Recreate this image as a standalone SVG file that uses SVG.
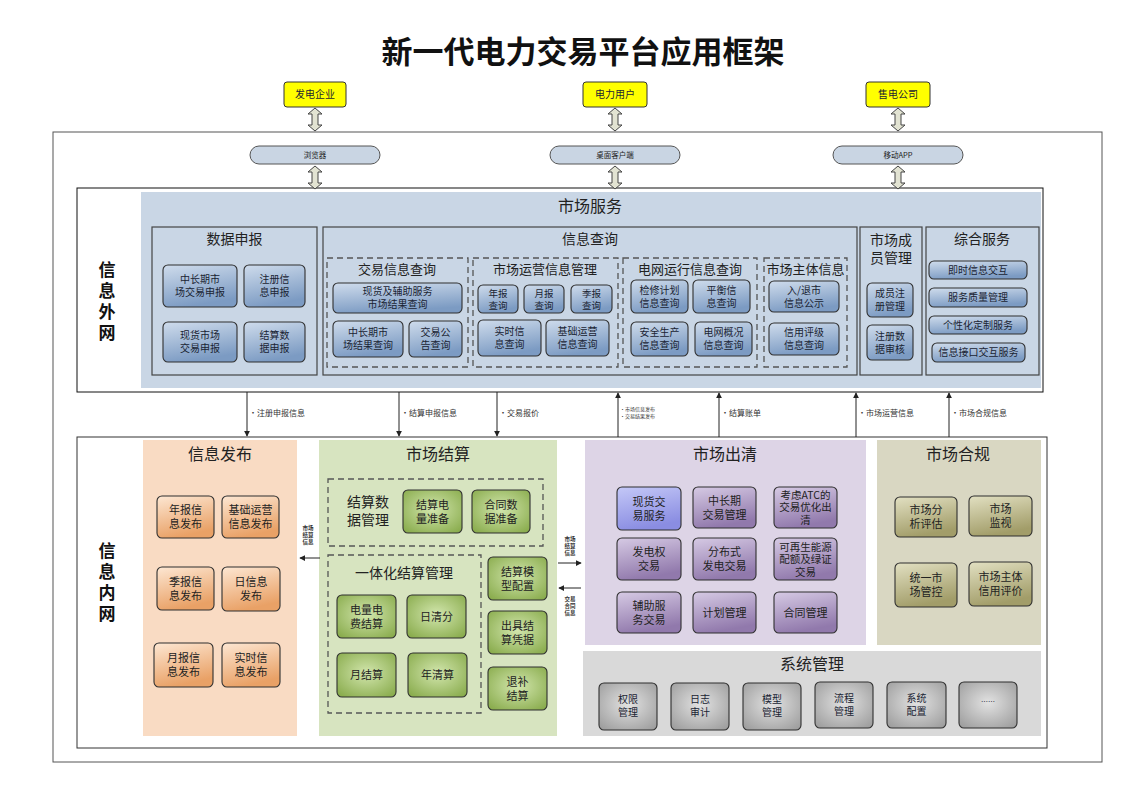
<svg xmlns="http://www.w3.org/2000/svg" width="1125" height="804" viewBox="0 0 1125 804">
<defs>
<style>
text{font-family:"Noto Sans CJK SC","Noto Sans",sans-serif;fill:#222;text-anchor:middle}
.ttl{font-size:31px;font-weight:bold;fill:#111}
.h16{font-size:16px;fill:#222}
.h14{font-size:14px;fill:#222}
.h13{font-size:13px;fill:#222}
.side{font-size:17px;font-weight:bold;fill:#111}
.n10{font-size:10px;fill:#1a2433}
.n9{font-size:9.5px;fill:#1a2433}
.n11{font-size:11px;fill:#222}
.n105{font-size:10.5px;fill:#222}
.lbl{font-size:8px;text-anchor:start;fill:#333}
.lbs{font-size:5px;text-anchor:start;fill:#333}
.tiny{font-size:5.5px;fill:#333;font-weight:bold}
.nd{stroke:#2f2f2f;stroke-width:1.1}
.blue{fill:url(#gBlue)}
.peach{fill:url(#gPeach)}
.green{fill:url(#gGreen)}
.purple{fill:url(#gPurple)}
.vio{fill:url(#gVio)}
.khaki{fill:url(#gKhaki)}
.gray{fill:url(#gGray)}
.sec{fill:none;stroke:#444;stroke-width:1.2}
.dash{fill:none;stroke:#555;stroke-width:1.3;stroke-dasharray:6 4}
.conn{stroke:#222;stroke-width:1;fill:none}
.dbl{fill:#e2e3d2;stroke:#444;stroke-width:1}
</style>
<linearGradient id="gBlue" x1="0" y1="0" x2="0.3" y2="1"><stop offset="0" stop-color="#cfdcec"/><stop offset="1" stop-color="#7c9bc3"/></linearGradient>
<linearGradient id="gPeach" x1="0" y1="0" x2="0.3" y2="1"><stop offset="0" stop-color="#fde7d3"/><stop offset="1" stop-color="#e9a166"/></linearGradient>
<radialGradient id="gGreen" cx="0.5" cy="0.45" r="0.7"><stop offset="0" stop-color="#d2e6ad"/><stop offset="1" stop-color="#87aa4a"/></radialGradient>
<linearGradient id="gPurple" x1="0" y1="0" x2="0.3" y2="1"><stop offset="0" stop-color="#d6cae4"/><stop offset="1" stop-color="#9179ac"/></linearGradient>
<linearGradient id="gVio" x1="0" y1="0" x2="0.3" y2="1"><stop offset="0" stop-color="#c4c8f7"/><stop offset="1" stop-color="#8a8de2"/></linearGradient>
<linearGradient id="gKhaki" x1="0" y1="0" x2="0.3" y2="1"><stop offset="0" stop-color="#e2e0c2"/><stop offset="1" stop-color="#a29d69"/></linearGradient>
<radialGradient id="gGray" cx="0.5" cy="0.45" r="0.7"><stop offset="0" stop-color="#e2e2e2"/><stop offset="1" stop-color="#9c9c9c"/></radialGradient>
<marker id="ah" viewBox="0 0 8 8" refX="7" refY="4" markerWidth="6" markerHeight="6" orient="auto"><path d="M0,0 L8,4 L0,8 Z" fill="#222"/></marker>
<path id="dbl" class="dbl" d="M0,0 L7,6 L3,6 L3,17 L7,17 L0,23 L-7,17 L-3,17 L-3,6 L-7,6 Z"/>
</defs>

<rect width="1125" height="804" fill="#ffffff"/>
<text class="ttl" x="583" y="63">新一代电力交易平台应用框架</text>

<!-- outer frames -->
<rect x="53" y="132" width="1049" height="630" fill="#fff" stroke="#555" stroke-width="1"/>
<rect x="77" y="188" width="966" height="204" fill="#fff" stroke="#111" stroke-width="1"/>
<rect x="141" y="192" width="900" height="196" fill="#c9d6e5"/>
<rect x="77" y="437" width="970" height="311" fill="#fff" stroke="#333" stroke-width="1"/>

<text class="side" x="107" y="276">信</text>
<text class="side" x="107" y="297">息</text>
<text class="side" x="107" y="318">外</text>
<text class="side" x="107" y="339">网</text>
<text class="side" x="107" y="557">信</text>
<text class="side" x="107" y="578">息</text>
<text class="side" x="107" y="599">内</text>
<text class="side" x="107" y="620">网</text>

<!-- external actors -->
<g id="actor-fadian"><rect x="284" y="82" width="62" height="25" rx="3" fill="#ffff00" stroke="#333"/><text class="n10" x="315" y="98">发电企业</text></g>
<g id="actor-yonghu"><rect x="583" y="82" width="64" height="25" rx="3" fill="#ffff00" stroke="#333"/><text class="n10" x="615" y="98">电力用户</text></g>
<g id="actor-shoudian"><rect x="866" y="82" width="64" height="25" rx="3" fill="#ffff00" stroke="#333"/><text class="n10" x="898" y="98">售电公司</text></g>

<g id="client-browser"><rect x="250" y="146" width="130" height="18" rx="9" fill="#c9d5e3" stroke="#555"/><text x="315" y="158" style="font-size:7.5px">浏览器</text></g>
<g id="client-desktop"><rect x="550" y="146" width="130" height="18" rx="9" fill="#c9d5e3" stroke="#555"/><text x="615" y="158" style="font-size:7.5px">桌面客户端</text></g>
<g id="client-mobile"><rect x="833" y="146" width="130" height="18" rx="9" fill="#c9d5e3" stroke="#555"/><text x="898" y="158" style="font-size:7.5px">移动APP</text></g>

<!-- 市场服务 -->
<g id="market-service">
<text class="h16" x="590" y="212">市场服务</text>
<g id="sec-data-report">
<rect class="sec" x="152" y="227" width="165" height="148"/>
<text class="h14" x="234.5" y="244">数据申报</text>
<g id="n-zcq-report"><rect class="nd blue" x="163" y="265" width="74" height="42" rx="5"/><text class="n10" x="200" y="283">中长期市<tspan x="200" y="296">场交易申报</tspan></text></g>
<g id="n-zc-report"><rect class="nd blue" x="244" y="265" width="61" height="42" rx="5"/><text class="n10" x="274.5" y="283">注册信<tspan x="274.5" y="296">息申报</tspan></text></g>
<g id="n-xh-report"><rect class="nd blue" x="163" y="322" width="74" height="40" rx="5"/><text class="n10" x="200" y="339">现货市场<tspan x="200" y="352">交易申报</tspan></text></g>
<g id="n-js-report"><rect class="nd blue" x="244" y="322" width="61" height="40" rx="5"/><text class="n10" x="274.5" y="339">结算数<tspan x="274.5" y="352">据申报</tspan></text></g>
</g>

<g id="sec-info-query">
<rect class="sec" x="323" y="227" width="534" height="148"/>
<text class="h14" x="590" y="244">信息查询</text>
<rect class="dash" x="327" y="258" width="141" height="109"/>
<text class="h13" x="397" y="274">交易信息查询</text>
<g id="n-xh-result"><rect class="nd blue" x="333" y="283" width="129" height="30" rx="5"/><text class="n10" x="397.5" y="295">现货及辅助服务<tspan x="397.5" y="308">市场结果查询</tspan></text></g>
<g id="n-zcq-result"><rect class="nd blue" x="333" y="321" width="70" height="36" rx="5"/><text class="n10" x="368" y="336">中长期市<tspan x="368" y="349">场结果查询</tspan></text></g>
<g id="n-jygg"><rect class="nd blue" x="409" y="321" width="53" height="36" rx="5"/><text class="n10" x="435.5" y="336">交易公<tspan x="435.5" y="349">告查询</tspan></text></g>

<rect class="dash" x="473" y="258" width="145" height="109"/>
<text class="h13" x="545" y="274">市场运营信息管理</text>
<g id="n-nb"><rect class="nd blue" x="478" y="285" width="40" height="28" rx="5"/><text class="n9" x="498" y="297">年报<tspan x="498" y="309">查询</tspan></text></g>
<g id="n-yb"><rect class="nd blue" x="524" y="285" width="40" height="28" rx="5"/><text class="n9" x="544" y="297">月报<tspan x="544" y="309">查询</tspan></text></g>
<g id="n-jb"><rect class="nd blue" x="571" y="285" width="41" height="28" rx="5"/><text class="n9" x="591.5" y="297">季报<tspan x="591.5" y="309">查询</tspan></text></g>
<g id="n-ss"><rect class="nd blue" x="478" y="320" width="63" height="36" rx="5"/><text class="n10" x="509.5" y="335">实时信<tspan x="509.5" y="348">息查询</tspan></text></g>
<g id="n-jcyy"><rect class="nd blue" x="546" y="320" width="63" height="36" rx="5"/><text class="n10" x="577.5" y="335">基础运营<tspan x="577.5" y="348">信息查询</tspan></text></g>

<rect class="dash" x="623" y="258" width="134" height="109"/>
<text class="h13" x="690" y="274">电网运行信息查询</text>
<g id="n-jxjh"><rect class="nd blue" x="631" y="280" width="57" height="33" rx="5"/><text class="n10" x="659.5" y="294">检修计划<tspan x="659.5" y="307">信息查询</tspan></text></g>
<g id="n-ph"><rect class="nd blue" x="693" y="280" width="57" height="33" rx="5"/><text class="n10" x="721.5" y="294">平衡信<tspan x="721.5" y="307">息查询</tspan></text></g>
<g id="n-aqsc"><rect class="nd blue" x="631" y="322" width="57" height="34" rx="5"/><text class="n10" x="659.5" y="336">安全生产<tspan x="659.5" y="349">信息查询</tspan></text></g>
<g id="n-dwgk"><rect class="nd blue" x="695" y="322" width="57" height="34" rx="5"/><text class="n10" x="723.5" y="336">电网概况<tspan x="723.5" y="349">信息查询</tspan></text></g>

<rect class="dash" x="764" y="258" width="83" height="109"/>
<text class="h13" x="805.5" y="274">市场主体信息</text>
<g id="n-rts"><rect class="nd blue" x="769" y="281" width="70" height="31" rx="5"/><text class="n10" x="804" y="294">入/退市<tspan x="804" y="307">信息公示</tspan></text></g>
<g id="n-xypj"><rect class="nd blue" x="769" y="323" width="70" height="32" rx="5"/><text class="n10" x="804" y="336">信用评级<tspan x="804" y="349">信息查询</tspan></text></g>
</g>

<g id="sec-member">
<rect class="sec" x="860" y="227" width="62" height="148"/>
<text class="h14" x="891" y="245">市场成<tspan x="891" y="263">员管理</tspan></text>
<g id="n-cyzc"><rect class="nd blue" x="867" y="283" width="46" height="34" rx="5"/><text class="n10" x="890" y="297">成员注<tspan x="890" y="310">册管理</tspan></text></g>
<g id="n-zcsh"><rect class="nd blue" x="867" y="325" width="46" height="35" rx="5"/><text class="n10" x="890" y="339.5">注册数<tspan x="890" y="352.5">据审核</tspan></text></g>
</g>

<g id="sec-general">
<rect class="sec" x="926" y="227" width="113" height="148"/>
<text class="h14" x="982" y="244">综合服务</text>
<g id="n-jsxx"><rect class="nd blue" x="929" y="261" width="98" height="18" rx="5"/><text class="n10" x="978" y="273.5">即时信息交互</text></g>
<g id="n-fwzl"><rect class="nd blue" x="929" y="288" width="98" height="19" rx="5"/><text class="n10" x="978" y="301">服务质量管理</text></g>
<g id="n-gxh"><rect class="nd blue" x="929" y="316" width="98" height="18" rx="5"/><text class="n10" x="978" y="328.5">个性化定制服务</text></g>
<g id="n-jk"><rect class="nd blue" x="932" y="343" width="93" height="19" rx="5"/><text class="n10" x="978.5" y="356">信息接口交互服务</text></g>
</g>
</g>

<!-- 信息发布 -->
<g id="info-publish">
<rect x="143" y="440" width="154" height="296" fill="#f9dbc3"/>
<text class="h16" x="220" y="460">信息发布</text>
<g id="n-nbfb"><rect class="nd peach" x="157" y="496" width="57" height="42" rx="5"/><text class="n11" x="185.5" y="514">年报信<tspan x="185.5" y="528">息发布</tspan></text></g>
<g id="n-jcfb"><rect class="nd peach" x="222" y="496" width="57" height="42" rx="5"/><text class="n11" x="250.5" y="514">基础运营<tspan x="250.5" y="528">信息发布</tspan></text></g>
<g id="n-jbfb"><rect class="nd peach" x="157" y="567" width="57" height="43" rx="5"/><text class="n11" x="185.5" y="585.5">季报信<tspan x="185.5" y="599.5">息发布</tspan></text></g>
<g id="n-rxx"><rect class="nd peach" x="222" y="567" width="58" height="44" rx="5"/><text class="n11" x="251" y="586">日信息<tspan x="251" y="600">发布</tspan></text></g>
<g id="n-ybfb"><rect class="nd peach" x="154" y="643" width="59" height="44" rx="5"/><text class="n11" x="183.5" y="662">月报信<tspan x="183.5" y="676">息发布</tspan></text></g>
<g id="n-ssfb"><rect class="nd peach" x="222" y="643" width="58" height="44" rx="5"/><text class="n11" x="251" y="662">实时信<tspan x="251" y="676">息发布</tspan></text></g>
</g>

<!-- 市场结算 -->
<g id="settlement">
<rect x="319" y="440" width="238" height="296" fill="#d7e4c0"/>
<text class="h16" x="438" y="460">市场结算</text>
<rect class="dash" x="328" y="479" width="215" height="67"/>
<text class="h14" x="368" y="507">结算数<tspan x="368" y="525">据管理</tspan></text>
<g id="n-jsdl"><rect class="nd green" x="403" y="490" width="59" height="43" rx="5"/><text class="n11" x="432.5" y="508.5">结算电<tspan x="432.5" y="522.5">量准备</tspan></text></g>
<g id="n-htsj"><rect class="nd green" x="472" y="490" width="58" height="43" rx="5"/><text class="n11" x="501" y="508.5">合同数<tspan x="501" y="522.5">据准备</tspan></text></g>
<rect class="dash" x="328" y="555" width="153" height="158"/>
<text class="h14" x="404" y="578">一体化结算管理</text>
<g id="n-dldf"><rect class="nd green" x="337" y="595" width="59" height="43" rx="5"/><text class="n11" x="366.5" y="613.5">电量电<tspan x="366.5" y="627.5">费结算</tspan></text></g>
<g id="n-rqf"><rect class="nd green" x="407" y="595" width="59" height="43" rx="5"/><text class="n11" x="436.5" y="620.5">日清分</text></g>
<g id="n-yjs"><rect class="nd green" x="337" y="653" width="59" height="44" rx="5"/><text class="n11" x="366.5" y="679">月结算</text></g>
<g id="n-nqs"><rect class="nd green" x="408" y="653" width="59" height="44" rx="5"/><text class="n11" x="437.5" y="679">年清算</text></g>
<g id="n-jsmx"><rect class="nd green" x="488" y="557" width="59" height="43" rx="5"/><text class="n11" x="517.5" y="575.5">结算模<tspan x="517.5" y="589.5">型配置</tspan></text></g>
<g id="n-cjpj"><rect class="nd green" x="488" y="611" width="59" height="43" rx="5"/><text class="n11" x="517.5" y="629.5">出具结<tspan x="517.5" y="643.5">算凭据</tspan></text></g>
<g id="n-tbjs"><rect class="nd green" x="488" y="667" width="59" height="43" rx="5"/><text class="n11" x="517.5" y="685.5">退补<tspan x="517.5" y="699.5">结算</tspan></text></g>
</g>

<!-- 市场出清 -->
<g id="clearing">
<rect x="585" y="440" width="281" height="205" fill="#ddd4e6"/>
<text class="h16" x="725" y="460">市场出清</text>
<g id="n-xhjy"><rect class="nd vio" x="617" y="487" width="64" height="43" rx="5"/><text class="n11" x="649" y="505.5">现货交<tspan x="649" y="519.5">易服务</tspan></text></g>
<g id="n-zcqjy"><rect class="nd purple" x="693" y="487" width="63" height="41" rx="5"/><text class="n11" x="724.5" y="504.5">中长期<tspan x="724.5" y="518.5">交易管理</tspan></text></g>
<g id="n-atc"><rect class="nd purple" x="774" y="487" width="63" height="41" rx="5"/><text class="n105" x="805.5" y="498.5">考虑ATC的<tspan x="805.5" y="511">交易优化出</tspan><tspan x="805.5" y="523.5">清</tspan></text></g>
<g id="n-fdq"><rect class="nd purple" x="617" y="538" width="64" height="42" rx="5"/><text class="n11" x="649" y="556">发电权<tspan x="649" y="570">交易</tspan></text></g>
<g id="n-fbs"><rect class="nd purple" x="693" y="538" width="63" height="42" rx="5"/><text class="n11" x="724.5" y="556">分布式<tspan x="724.5" y="570">发电交易</tspan></text></g>
<g id="n-kzs"><rect class="nd purple" x="774" y="538" width="63" height="42" rx="5"/><text class="n105" x="805.5" y="550.5">可再生能源<tspan x="805.5" y="563">配额及绿证</tspan><tspan x="805.5" y="575.5">交易</tspan></text></g>
<g id="n-fzfw"><rect class="nd purple" x="617" y="592" width="64" height="41" rx="5"/><text class="n11" x="649" y="609.5">辅助服<tspan x="649" y="623.5">务交易</tspan></text></g>
<g id="n-jhgl"><rect class="nd purple" x="693" y="592" width="63" height="41" rx="5"/><text class="n11" x="724.5" y="616.5">计划管理</text></g>
<g id="n-htgl"><rect class="nd purple" x="774" y="592" width="63" height="41" rx="5"/><text class="n11" x="805.5" y="616.5">合同管理</text></g>
</g>

<!-- 市场合规 -->
<g id="compliance">
<rect x="877" y="440" width="164" height="205" fill="#d9d7c2"/>
<text class="h16" x="958" y="460">市场合规</text>
<g id="n-scfx"><rect class="nd khaki" x="895" y="497" width="62" height="40" rx="5"/><text class="n11" x="926" y="514">市场分<tspan x="926" y="528">析评估</tspan></text></g>
<g id="n-scjs"><rect class="nd khaki" x="969" y="496" width="63" height="40" rx="5"/><text class="n11" x="1000.5" y="513">市场<tspan x="1000.5" y="527">监视</tspan></text></g>
<g id="n-tysc"><rect class="nd khaki" x="895" y="563" width="62" height="44" rx="5"/><text class="n11" x="926" y="582">统一市<tspan x="926" y="596">场管控</tspan></text></g>
<g id="n-xypj2"><rect class="nd khaki" x="969" y="562" width="63" height="44" rx="5"/><text class="n11" x="1000.5" y="581">市场主体<tspan x="1000.5" y="595">信用评价</tspan></text></g>
</g>

<!-- 系统管理 -->
<g id="sysmgmt">
<rect x="583" y="651" width="458" height="85" fill="#d9d9d9"/>
<text class="h16" x="812" y="670">系统管理</text>
<g id="n-qx"><rect class="nd gray" x="599" y="683" width="58" height="47" rx="5"/><text class="n10" x="628" y="703">权限<tspan x="628" y="716">管理</tspan></text></g>
<g id="n-rz"><rect class="nd gray" x="671" y="683" width="58" height="47" rx="5"/><text class="n10" x="700" y="703">日志<tspan x="700" y="716">审计</tspan></text></g>
<g id="n-mx"><rect class="nd gray" x="743" y="683" width="58" height="47" rx="5"/><text class="n10" x="772" y="703">模型<tspan x="772" y="716">管理</tspan></text></g>
<g id="n-lc"><rect class="nd gray" x="815" y="682" width="58" height="46" rx="5"/><text class="n10" x="844" y="702">流程<tspan x="844" y="715">管理</tspan></text></g>
<g id="n-xtpz"><rect class="nd gray" x="887" y="682" width="59" height="46" rx="5"/><text class="n10" x="916.5" y="702">系统<tspan x="916.5" y="715">配置</tspan></text></g>
<g id="n-more"><rect class="nd gray" x="959" y="682" width="58" height="46" rx="5"/><text class="n10" x="988" y="704" style="font-size:7px">……</text></g>
</g>

<!-- connectors -->
<g id="connectors">
<use href="#dbl" x="315" y="108"/>
<use href="#dbl" x="615" y="108"/>
<use href="#dbl" x="898" y="108"/>
<use href="#dbl" x="315" y="166"/>
<use href="#dbl" x="615" y="166"/>
<use href="#dbl" x="898" y="166"/>

<line class="conn" x1="247" y1="392" x2="247" y2="436" marker-end="url(#ah)"/>
<line class="conn" x1="399" y1="392" x2="399" y2="436" marker-end="url(#ah)"/>
<line class="conn" x1="497" y1="392" x2="497" y2="436" marker-end="url(#ah)"/>
<line class="conn" x1="618" y1="437" x2="618" y2="393" marker-end="url(#ah)"/>
<line class="conn" x1="719" y1="437" x2="719" y2="393" marker-end="url(#ah)"/>
<line class="conn" x1="856" y1="437" x2="856" y2="393" marker-end="url(#ah)"/>
<line class="conn" x1="949" y1="437" x2="949" y2="393" marker-end="url(#ah)"/>
<text class="lbl" x="249" y="416">•注册申报信息</text>
<text class="lbl" x="401" y="416">•结算申报信息</text>
<text class="lbl" x="499" y="416">•交易报价</text>
<text class="lbs" x="620" y="411">•市场信息发布</text>
<text class="lbs" x="620" y="418">•交易结果发布</text>
<text class="lbl" x="721" y="416">•结算账单</text>
<text class="lbl" x="858" y="416">•市场运营信息</text>
<text class="lbl" x="951" y="416">•市场合规信息</text>

<line class="conn" x1="320" y1="558" x2="300" y2="558" marker-end="url(#ah)"/>
<text class="tiny" x="308" y="530">市场<tspan x="308" y="537">结算</tspan><tspan x="308" y="544">信息</tspan></text>
<line class="conn" x1="558" y1="563" x2="581" y2="563" marker-end="url(#ah)"/>
<text class="tiny" x="570" y="541">市场<tspan x="570" y="548">结算</tspan><tspan x="570" y="555">信息</tspan></text>
<line class="conn" x1="581" y1="588" x2="559" y2="588" marker-end="url(#ah)"/>
<text class="tiny" x="570" y="601">交易<tspan x="570" y="608">合同</tspan><tspan x="570" y="615">信息</tspan></text>
</g>
</svg>
